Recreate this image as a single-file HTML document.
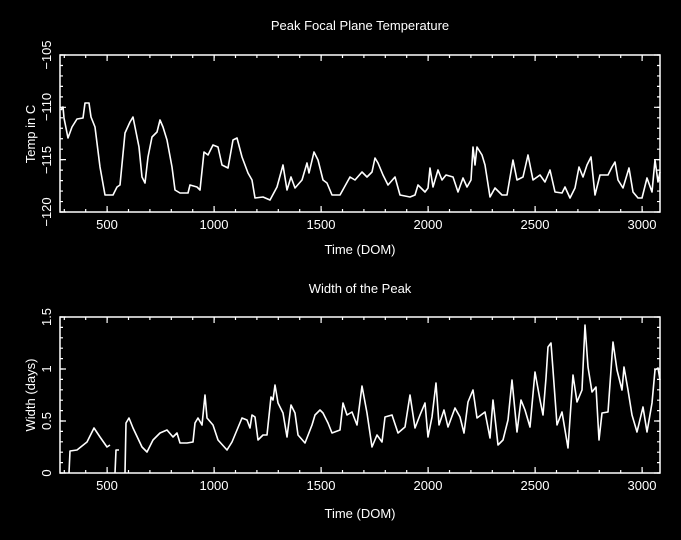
<!DOCTYPE html>
<html><head><style>body{margin:0;background:#000}svg{display:block}</style></head><body>
<svg width="681" height="540" xmlns="http://www.w3.org/2000/svg" font-family="Liberation Sans, sans-serif" font-size="13" fill="#fff">
<rect width="681" height="540" fill="#000"/>
<g stroke="#fff" stroke-width="1.5" fill="none">
<rect x="60" y="55" width="600" height="157"/>
<rect x="60" y="317" width="600" height="156"/>
</g>
<g stroke="#fff" fill="none">
<!-- top plot x ticks -->
<line x1="63.7" y1="56.5" x2="660" y2="56.5" stroke-width="3" stroke-dasharray="1.2 20.2"/>
<line x1="106.5" y1="58" x2="660" y2="58" stroke-width="6" stroke-dasharray="1.2 105.8"/>
<line x1="63.7" y1="210.5" x2="660" y2="210.5" stroke-width="3" stroke-dasharray="1.2 20.2"/>
<line x1="106.5" y1="209" x2="660" y2="209" stroke-width="6" stroke-dasharray="1.2 105.8"/>
<!-- bottom plot x ticks -->
<line x1="63.7" y1="318.5" x2="660" y2="318.5" stroke-width="3" stroke-dasharray="1.2 20.2"/>
<line x1="106.5" y1="320" x2="660" y2="320" stroke-width="6" stroke-dasharray="1.2 105.8"/>
<line x1="63.7" y1="471.5" x2="660" y2="471.5" stroke-width="3" stroke-dasharray="1.2 20.2"/>
<line x1="106.5" y1="470" x2="660" y2="470" stroke-width="6" stroke-dasharray="1.2 105.8"/>
<!-- top plot y ticks -->
<line x1="61.5" y1="54.4" x2="61.5" y2="213" stroke-width="3" stroke-dasharray="1.2 9.267"/>
<line x1="63" y1="54.4" x2="63" y2="213" stroke-width="6" stroke-dasharray="1.2 51.13"/>
<line x1="658.5" y1="54.4" x2="658.5" y2="213" stroke-width="3" stroke-dasharray="1.2 9.267"/>
<line x1="657" y1="54.4" x2="657" y2="213" stroke-width="6" stroke-dasharray="1.2 51.13"/>
<!-- bottom plot y ticks -->
<line x1="61.5" y1="316.4" x2="61.5" y2="474" stroke-width="3" stroke-dasharray="1.2 9.2"/>
<line x1="63" y1="316.4" x2="63" y2="474" stroke-width="6" stroke-dasharray="1.2 50.8"/>
<line x1="658.5" y1="316.4" x2="658.5" y2="474" stroke-width="3" stroke-dasharray="1.2 9.2"/>
<line x1="657" y1="316.4" x2="657" y2="474" stroke-width="6" stroke-dasharray="1.2 50.8"/>
</g>
<g stroke="#fff" stroke-width="1.6" fill="none" stroke-linejoin="round">
<polyline points="61,110 63,107 64,118 68,138 72,127 77,119 83,118 85,103 89,103 91,117 95,127 100,167 105,195 113,195 117,187 120,185 125,133 130,122 133,117 135,127 139,147 142,177 145,183 148,157 152,137 157,132 160,120 163,127 167,140 172,167 175,190 180,193 188,193 190,185 197,187 200,190 204,152 208,155 213,145 218,147 222,165 228,168 233,140 237,138 242,157 248,173 252,180 255,198 263,197 270,200 277,187 283,165 287,190 291,177 295,188 302,180 307,163 309,173 314,152 318,160 323,180 327,183 332,195 340,195 350,177 355,180 362,172 367,177 372,172 375,158 378,163 383,175 388,185 395,177 400,195 410,197 415,195 418,185 425,192 428,188 430,168 433,187 438,170 442,180 446,175 453,177 458,192 463,178 467,187 471,180 473,147 475,165 477,147 482,155 485,165 490,197 495,188 502,195 507,195 513,160 517,180 523,177 528,155 533,180 540,175 545,182 550,170 555,192 562,193 565,187 570,198 575,188 579,167 583,177 587,165 591,157 595,195 600,175 608,175 612,167 615,162 618,180 623,188 629,168 633,192 638,198 642,198 647,178 652,192 655,160 658,182 660,172"/>
<polyline points="69,473 70,451 77,450 87,442 94,428 100,437 107,447 110,445"/>
<polyline points="115,473 116,450 119,450"/>
<polyline points="125,473 126,423 129,418 133,428 142,447 147,452 153,440 160,433 167,430 173,437 177,433 180,443 187,443 193,442 195,423 198,418 202,425 205,395 207,418 213,425 218,440 227,450 232,442 237,430 242,418 247,420 250,428 252,415 255,417 258,440 263,435 267,435 271,397 273,400 275,385 278,403 283,413 287,437 291,405 295,413 298,435 305,443 312,425 315,415 320,410 323,413 328,423 332,433 340,430 343,403 347,415 352,412 357,425 362,386 367,413 372,447 377,435 382,442 385,417 392,415 398,433 405,427 410,395 415,428 420,415 425,403 428,437 432,417 436,383 439,425 444,410 448,427 455,408 460,417 464,433 468,402 473,390 477,418 485,412 490,438 493,400 498,445 503,440 508,420 512,380 517,432 521,400 525,410 530,427 535,372 540,400 543,415 546,378 548,347 551,343 553,370 557,425 562,412 568,448 573,375 577,402 582,390 585,325 588,367 592,392 596,387 599,440 602,413 608,412 613,342 617,370 622,390 624,367 628,390 632,415 637,432 643,407 647,432 652,403 655,370 658,368 660,380"/>
</g>
<g text-anchor="middle">
<text x="360" y="30">Peak Focal Plane Temperature</text>
<text x="360" y="254">Time (DOM)</text>
<text x="360" y="293">Width of the Peak</text>
<text x="360" y="518">Time (DOM)</text>
<text transform="translate(35,134) rotate(-90)">Temp in C</text>
<text transform="translate(35,395) rotate(-90)">Width (days)</text>
<text x="107" y="229">500</text><text x="214" y="229">1000</text><text x="321" y="229">1500</text><text x="428" y="229">2000</text><text x="535" y="229">2500</text><text x="642" y="229">3000</text>
<text x="107" y="490">500</text><text x="214" y="490">1000</text><text x="321" y="490">1500</text><text x="428" y="490">2000</text><text x="535" y="490">2500</text><text x="642" y="490">3000</text>
<text transform="translate(51,55) rotate(-90)">−105</text>
<text transform="translate(51,107) rotate(-90)">−110</text>
<text transform="translate(51,160) rotate(-90)">−115</text>
<text transform="translate(51,212) rotate(-90)">−120</text>
<text transform="translate(51,317) rotate(-90)">1.5</text>
<text transform="translate(51,369) rotate(-90)">1</text>
<text transform="translate(51,421) rotate(-90)">0.5</text>
<text transform="translate(51,473) rotate(-90)">0</text>
</g>
</svg>
</body></html>
